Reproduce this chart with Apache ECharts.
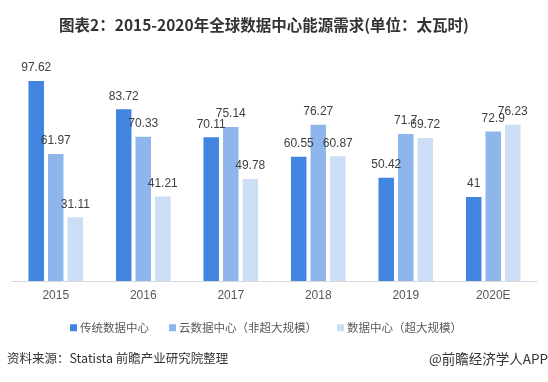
<!DOCTYPE html>
<html><head><meta charset="utf-8">
<script src="https://cdn.jsdelivr.net/npm/echarts@6/dist/echarts.min.js"></script>
<style>html,body{margin:0;padding:0;background:#fff}#c{width:548px;height:382px}</style>
</head><body><div id="c"></div>
<script>
const categories = ['2015','2016','2017','2018','2019','2020E'];
const traditional = [97.62, 83.72, 70.11, 60.55, 50.42, 41];
const cloudNonHyper = [61.97, 70.33, 75.14, 76.27, 71.7, 72.9];
const hyperscale = [31.11, 41.21, 49.78, 60.87, 69.72, 76.23];
const seriesNames = ['传统数据中心','云数据中心（非超大规模）','数据中心（超大规模）'];
const colors = ['#4285E1','#8EB5EC','#CCDEF6'];
const font = '"Liberation Sans","Noto Sans CJK SC",sans-serif';
const cjk = '"Noto Sans CJK SC",sans-serif';
const chart = echarts.init(document.getElementById('c'), null, {renderer:'canvas'});
function mk(i, data){
  return {name: seriesNames[i], type:'bar', data, barWidth:15.5, barGap:'26%',
    itemStyle:{color:colors[i]},
    label:{show:true, position:'top', distance:7, color:'#404040', fontSize:12, fontFamily:font}};
}
const legendLefts = [65, 164, 332];
chart.setOption({
  animation:false,
  title:{text:'图表2：2015-2020年全球数据中心能源需求(单位：太瓦时)', left:259, textAlign:'center', top:12,
    textStyle:{fontSize:15.5, fontWeight:'bold', color:'#333', fontFamily:cjk}},
  grid:{left:12, right:11, top:76, bottom:101, containLabel:false},
  xAxis:{type:'category', data:categories, axisTick:{show:false},
    axisLine:{lineStyle:{color:'#D9D9D9', width:1}},
    axisLabel:{color:'#595959', fontSize:12, fontFamily:font, margin:9}},
  yAxis:{type:'value', min:0, max:100, show:false, splitLine:{show:false}},
  legend: seriesNames.map((n,i)=>({left:legendLefts[i], top:317, itemWidth:7, itemHeight:7, icon:'rect',
    textStyle:{color:'#595959', fontSize:11.5, fontFamily:cjk, padding:[0,0,0,-2]}, data:[n]})),
  graphic:[
    {type:'text', left:7, top:352, style:{text:'资料来源：Statista 前瞻产业研究院整理', fill:'#333', fontSize:12.5, fontFamily:cjk}},
    {type:'text', right:0, top:352, style:{text:'@前瞻经济学人APP', fill:'#333', fontSize:13.5, fontFamily:cjk}}
  ],
  series:[mk(0, traditional), mk(1, cloudNonHyper), mk(2, hyperscale)]
});
</script></body></html>
